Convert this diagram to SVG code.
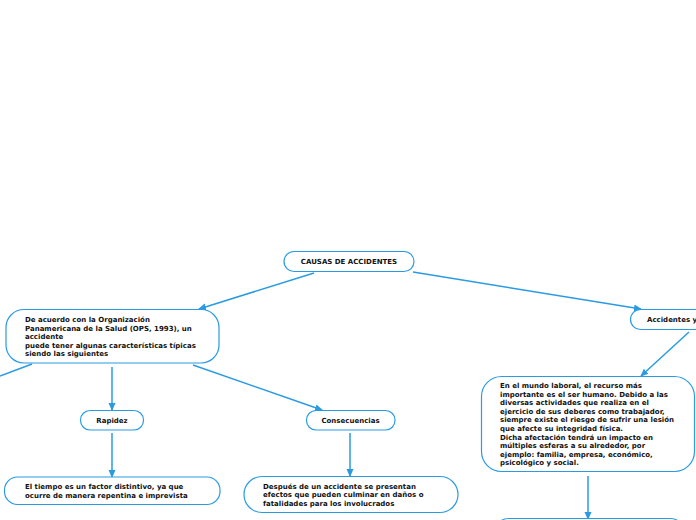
<svg xmlns="http://www.w3.org/2000/svg" width="696" height="520" viewBox="0 0 696 520">
<defs>
<marker id="ah" markerWidth="8" markerHeight="8" refX="7" refY="4" orient="auto" markerUnits="userSpaceOnUse">
<path d="M0,0.5 L8,4 L0,7.5 Z" fill="#2a9be2"/>
</marker>
</defs>
<style>
.n{fill:#fff;stroke:#2a9be2;stroke-width:1.2}
.t{font-family:"DejaVu Sans",Verdana,sans-serif;font-weight:bold;font-size:7px;fill:#111}
.c{stroke:#2a9be2;stroke-width:1.5;fill:none}
.m{text-anchor:middle}
</style>
<rect width="696" height="520" fill="#fff"/>
<g id="connectors">
<line class="c" x1="314" y1="273" x2="199" y2="309" marker-end="url(#ah)"/>
<line class="c" x1="413" y1="272" x2="641" y2="309" marker-end="url(#ah)"/>
<line class="c" x1="32" y1="364" x2="0" y2="376"/>
<line class="c" x1="112" y1="367" x2="112" y2="410" marker-end="url(#ah)"/>
<line class="c" x1="193" y1="365" x2="322" y2="410" marker-end="url(#ah)"/>
<line class="c" x1="112" y1="433" x2="112" y2="477" marker-end="url(#ah)"/>
<line class="c" x1="350" y1="433" x2="350" y2="476" marker-end="url(#ah)"/>
<line class="c" x1="689" y1="332" x2="641" y2="376" marker-end="url(#ah)"/>
<line class="c" x1="588" y1="476" x2="588" y2="519" marker-end="url(#ah)"/>
</g>
<g id="root">
<rect class="n" x="284" y="251.5" width="130" height="20" rx="10"/>
<text class="t m" x="349" y="264">CAUSAS DE ACCIDENTES</text>
</g>
<g id="ops">
<rect class="n" x="6" y="309.5" width="213" height="53.5" rx="18"/>
<text class="t" x="25" y="322">De acuerdo con la Organización</text>
<text class="t" x="25" y="330.5">Panamericana de la Salud (OPS, 1993), un</text>
<text class="t" x="25" y="339">accidente</text>
<text class="t" x="25" y="347.5">puede tener algunas características típicas</text>
<text class="t" x="25" y="356">siendo las siguientes</text>
</g>
<g id="accidentes">
<rect class="n" x="630.5" y="309.5" width="90" height="20" rx="10"/>
<text class="t" x="647" y="322">Accidentes y</text>
</g>
<g id="rapidez">
<rect class="n" x="80.5" y="410.5" width="63" height="19.5" rx="9.5"/>
<text class="t m" x="112" y="423">Rapidez</text>
</g>
<g id="consecuencias">
<rect class="n" x="306.5" y="410.5" width="88.5" height="19.5" rx="9.5"/>
<text class="t m" x="350.5" y="423">Consecuencias</text>
</g>
<g id="tiempo">
<rect class="n" x="4.5" y="477" width="215.5" height="27.5" rx="13"/>
<text class="t" x="25" y="489">El tiempo es un factor distintivo, ya que</text>
<text class="t" x="25" y="497.5">ocurre de manera repentina e imprevista</text>
</g>
<g id="despues">
<rect class="n" x="244" y="476.5" width="214" height="36" rx="18"/>
<text class="t" x="263" y="488.5">Después de un accidente se presentan</text>
<text class="t" x="263" y="497">efectos que pueden culminar en daños o</text>
<text class="t" x="263" y="505.5">fatalidades para los involucrados</text>
</g>
<g id="mundo">
<rect class="n" x="481.5" y="376.5" width="213" height="95" rx="20"/>
<text class="t" x="500" y="388">En el mundo laboral, el recurso más</text>
<text class="t" x="500" y="396.6">importante es el ser humano. Debido a las</text>
<text class="t" x="500" y="405.2">diversas actividades que realiza en el</text>
<text class="t" x="500" y="413.8">ejercicio de sus deberes como trabajador,</text>
<text class="t" x="500" y="422.4">siempre existe el riesgo de sufrir una lesión</text>
<text class="t" x="500" y="431">que afecte su integridad física.</text>
<text class="t" x="500" y="439.6">Dicha afectación tendrá un impacto en</text>
<text class="t" x="500" y="448.2">múltiples esferas a su alrededor, por</text>
<text class="t" x="500" y="456.8">ejemplo: familia, empresa, económico,</text>
<text class="t" x="500" y="465.4">psicológico y social.</text>
</g>
<g id="bottom">
<rect class="n" x="494.5" y="518.5" width="190" height="30" rx="14"/>
</g>
</svg>
